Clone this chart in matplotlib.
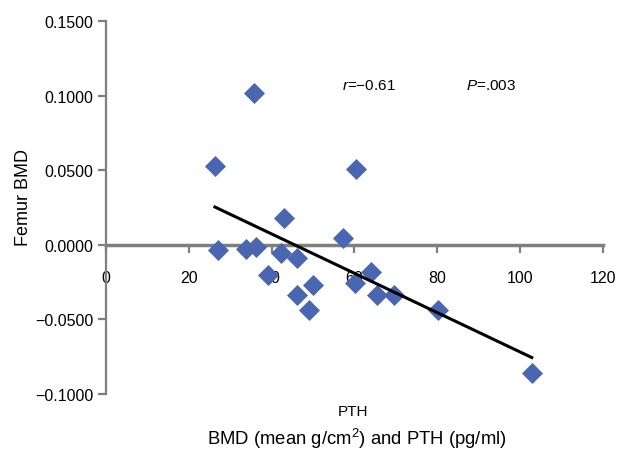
import numpy as np
import matplotlib
matplotlib.use("Agg")
from matplotlib import pyplot as plt

plt.rcParams['font.family'] = ['Liberation Sans', 'DejaVu Sans']
plt.rcParams['mathtext.fontset'] = 'custom'
plt.rcParams['mathtext.rm'] = 'Liberation Sans'
plt.rcParams['mathtext.it'] = 'Liberation Sans:italic'

# PTH (pg/ml) vs change in femur BMD
pth = [26.3, 35.7, 27.0, 33.8, 36.2, 43.0, 39.1, 42.2, 46.1, 46.1,
       50.0, 49.0, 57.2, 60.4, 60.1, 64.0, 65.4, 69.5, 80.2, 102.8]
bmd = [0.0529, 0.1017, -0.0033, -0.0027, -0.0013, 0.0180, -0.0200, -0.0054, -0.0087, -0.0335,
       -0.0268, -0.0435, 0.0047, 0.0509, -0.0254, -0.0180, -0.0335, -0.0335, -0.0435, -0.0857]

# trend line end points
trend_x = [26.3, 102.8]
trend_y = [0.0254, -0.0755]

yticks = [-0.10, -0.05, 0.0, 0.05, 0.10, 0.15]
xticks = [0, 20, 40, 60, 80, 100, 120]

fig = plt.figure(figsize=(6.22, 4.52), dpi=100)
ax = fig.add_axes([0.1704, 0.126, 0.799, 0.825])

grey = '#7f7f7f'
ax.scatter(pth, bmd, marker='D', s=115, color='#4a66b0', zorder=3, linewidths=0)
ax.plot(trend_x, trend_y, color='black', lw=2.2, zorder=4)

ax.set_xlim(0, 120)
ax.set_ylim(-0.10, 0.15)
ax.spines['top'].set_visible(False)
ax.spines['right'].set_visible(False)
ax.spines['left'].set_color(grey)
ax.spines['left'].set_linewidth(1.6)
ax.spines['bottom'].set_position(('data', 0))
ax.spines['bottom'].set_color(grey)
ax.spines['bottom'].set_linewidth(2.5)

ax.set_yticks(yticks)
ax.set_yticklabels(['\u22120.1000', '\u22120.0500', '0.0000', '0.0500', '0.1000', '0.1500'])
ax.set_xticks(xticks)
ax.set_xticklabels([str(v) for v in xticks])
ax.tick_params(axis='y', direction='out', length=6, width=1.6, color=grey, labelsize=11.5, pad=3)
ax.tick_params(axis='x', direction='out', length=6, width=1.6, color=grey, labelsize=11.5, pad=12)

fig.text(0.038, 0.564, 'Femur BMD', rotation=90, ha='center', va='center', fontsize=13)
fig.text(0.568, 0.089, 'PTH', ha='center', va='center', fontsize=11)
fig.text(0.573, 0.028, 'BMD (mean g/cm$^2$) and PTH (pg/ml)', ha='center', va='center', fontsize=13.3)

ax.text(57.0, 0.1070, '$\\it{r}$=\u22120.61', fontsize=11, va='center')
ax.text(87.0, 0.1070, '$\\it{P}$=.003', fontsize=11, va='center')

plt.savefig('out.png', dpi=100)
